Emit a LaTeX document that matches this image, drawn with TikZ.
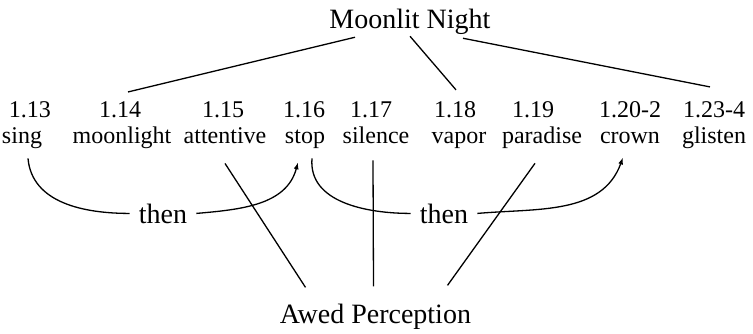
\documentclass[tikz,border=0pt]{standalone}
\usepackage{fontspec}
\setmainfont{Liberation Serif}
\usetikzlibrary{arrows.meta}
\begin{document}
\begin{tikzpicture}[x=1pt,y=-1pt,
  big/.style={font=\fontsize{28}{30}\selectfont, inner sep=0pt, anchor=base},
  lbl/.style={font=\fontsize{24}{26}\selectfont, inner sep=0pt, anchor=base},
  thenlbl/.style={big, inner xsep=9pt, inner ysep=0pt},
  conn/.style={line width=1.3pt},
  arr/.style={conn, -{Latex[length=7pt,width=5pt]}}]
\useasboundingbox (0,0) rectangle (753,333);
\node[big] (title) at (410,28) {Moonlit Night};
% numbers
\node[lbl] (n13) at (30,117) {1.13};
\node[lbl] (n14) at (120,117) {1.14};
\node[lbl] (n15) at (223,117) {1.15};
\node[lbl] (n16) at (304,117) {1.16};
\node[lbl] (n17) at (371,117) {1.17};
\node[lbl] (n18) at (455,117) {1.18};
\node[lbl] (n19) at (533,117) {1.19};
\node[lbl] (n20) at (630,117) {1.20-2};
\node[lbl] (n23) at (714,117) {1.23-4};
% words
\node[lbl] (w13) at (22,143) {sing};
\node[lbl] (w14) at (122,143) {moonlight};
\node[lbl] (w15) at (225,143) {attentive};
\node[lbl] (w16) at (305,143) {stop};
\node[lbl] (w17) at (376,143) {silence};
\node[lbl] (w18) at (459,143) {vapor};
\node[lbl] (w19) at (542,143) {paradise};
\node[lbl] (w20) at (630,143) {crown};
\node[lbl] (w23) at (714,143) {glisten};
% then labels
\node[thenlbl] (then1) at (163,223) {then};
\node[thenlbl] (then2) at (444,223) {then};
\node[big] (ap) at (375.5,323) {Awed Perception};
% top connectors
\draw[conn] ([shift={(-55,3)}]title.south) -- ([shift={(8,-9)}]n14.north);
\draw[conn] ([shift={(0,2)}]title.south) -- ([shift={(1,-11)}]n18.north);
\draw[conn] ([shift={(53,4)}]title.south) -- ([shift={(-4,-14)}]n23.north);
% bottom connectors
\draw[conn] ([shift={(0,20)}]w15.south) -- ([shift={(-70,-16)}]ap.north);
\draw[conn] ([shift={(-3,17)}]w17.south) -- ([shift={(-2,-17)}]ap.north);
\draw[conn] ([shift={(-7,15)}]w19.south) -- ([shift={(72,-18)}]ap.north);
% then curves
\draw[conn] ([shift={(6,10)}]w13.south) to[out=-85,in=180] (then1.west);
\draw[arr] (then1.east) to[out=5,in=-105] ([shift={(-7,14)}]w16.south);
\draw[conn] ([shift={(7,10)}]w16.south) to[out=-95,in=180] (then2.west);
\draw[arr] (then2.east) to[out=5,in=-110] ([shift={(-7,14)}]w20.south);
\end{tikzpicture}
\end{document}
